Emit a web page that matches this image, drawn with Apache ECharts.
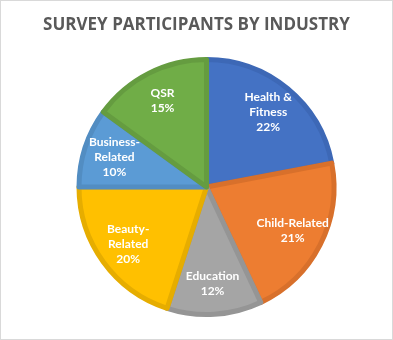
<!DOCTYPE html>
<html><head><meta charset="utf-8">
<script src="https://cdn.jsdelivr.net/npm/echarts@6/dist/echarts.min.js"></script>
<style>
html,body{margin:0;padding:0;background:#fff;}
#c{width:393px;height:340px;box-sizing:border-box;border:1px solid #d9d9d9;}
</style></head>
<body><div id="c"></div>
<script>
const categories = ['Health &\nFitness', 'Child-Related', 'Education', 'Beauty-\nRelated', 'Business-\nRelated', 'QSR'];
const values = [22, 21, 12, 20, 10, 15];
const colors = ['#4472C4', '#ED7D31', '#A5A5A5', '#FFC000', '#5B9BD5', '#70AD47'];
const borderColors = ['#3D68B6', '#D8702B', '#959595', '#E6AD00', '#528DC2', '#659C40'];
const titleText = 'SURVEY PARTICIPANTS BY INDUSTRY';

const CX = 205.5, CY = 186, R = 127.5;
const chart = echarts.init(document.getElementById('c'), null, {renderer: 'canvas'});
chart.setOption({
  animation: false,
  title: {
    text: titleText, left: 'center', top: 11,
    textStyle: {color: '#595959', fontSize: 17, fontWeight: 'bold', fontFamily: 'Open Sans'}
  },
  series: [{
    type: 'pie',
    center: [CX, CY],
    radius: [0, R],
    startAngle: 90,
    clockwise: true,
    data: categories.map((c, i) => ({
      name: c, value: values[i],
      itemStyle: {color: colors[i], borderColor: borderColors[i]}
    })),
    itemStyle: {borderWidth: 5},
    label: {
      position: 'inside',
      formatter: '{b}\n{c}%',
      color: '#fff', fontSize: 12, fontWeight: 'bold', fontFamily: 'Lato', lineHeight: 15
    },
    labelLayout: function (p) {
      const r = p.labelRect;
      const lx = r.x + r.width / 2, ly = r.y + r.height / 2;
      const k = 1.45;
      return {x: CX + (lx - CX) * k, y: CY + (ly - CY) * k};
    },
    emphasis: {disabled: true}
  }]
});
</script></body></html>
